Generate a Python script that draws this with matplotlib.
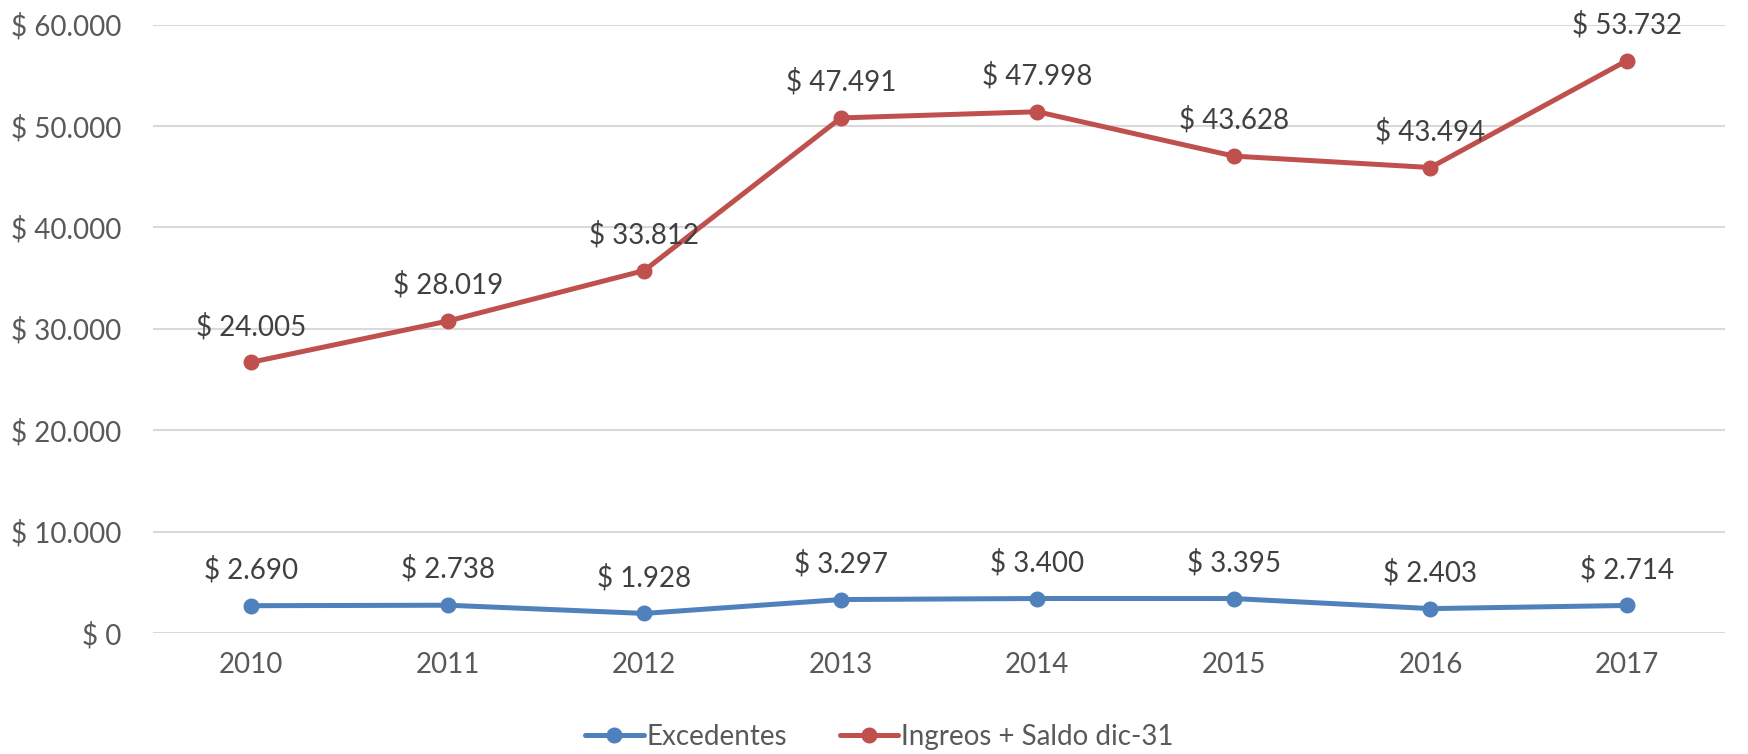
import matplotlib.pyplot as plt
from matplotlib.ticker import FuncFormatter

years = ['2010', '2011', '2012', '2013', '2014', '2015', '2016', '2017']
excedentes = [2690, 2738, 1928, 3297, 3400, 3395, 2403, 2714]
ingresos = [24005, 28019, 33812, 47491, 47998, 43628, 43494, 53732]

BLUE = '#4F81BD'
RED = '#C0504D'
GRID = '#D9D9D9'
TICK = '#595959'
LABEL = '#404040'

plt.rcParams['font.family'] = ['Lato', 'DejaVu Sans']


def pesos(v, pos=None):
    return '$ ' + f'{v:,.0f}'.replace(',', '.')


fig = plt.figure(figsize=(17.48, 7.54), dpi=100)
ax = fig.add_axes([0.0875, 0.1605, 0.8995, 0.807])

x = range(len(years))
# stacked lines: second series sits on top of the first
stacked = [a + b for a, b in zip(excedentes, ingresos)]

ax.plot(x, excedentes, color=BLUE, lw=3.6, marker='o', ms=10.5,
        solid_capstyle='round', label='Excedentes', zorder=3)
ax.plot(x, stacked, color=RED, lw=3.6, marker='o', ms=10.5,
        solid_capstyle='round', label='Ingreos + Saldo dic-31', zorder=3)

for i in x:
    ax.annotate(pesos(excedentes[i]), (i, excedentes[i]), xytext=(0, 16),
                textcoords='offset points', ha='center', va='bottom',
                fontsize=20, color=LABEL)
    ax.annotate(pesos(ingresos[i]), (i, stacked[i]), xytext=(0, 16),
                textcoords='offset points', ha='center', va='bottom',
                fontsize=20, color=LABEL)

ax.set_xlim(-0.5, len(years) - 0.5)
ax.set_ylim(0, 60000)
ax.set_yticks(range(0, 60001, 10000))
ax.yaxis.set_major_formatter(FuncFormatter(pesos))
ax.set_xticks(list(x))
ax.set_xticklabels(years)
ax.tick_params(axis='both', length=0, labelsize=20, labelcolor=TICK)
ax.tick_params(axis='x', pad=14)
ax.tick_params(axis='y', pad=23)

ax.grid(axis='y', color=GRID, lw=1.5)
ax.set_axisbelow(True)
for s in ax.spines.values():
    s.set_visible(False)

fig.legend(loc='center', bbox_to_anchor=(0.503, 0.023), ncol=2, frameon=False,
           fontsize=20, labelcolor=TICK, handlelength=2.1, handletextpad=0.1,
           columnspacing=1.9)

fig.savefig('out.png', dpi=100)
